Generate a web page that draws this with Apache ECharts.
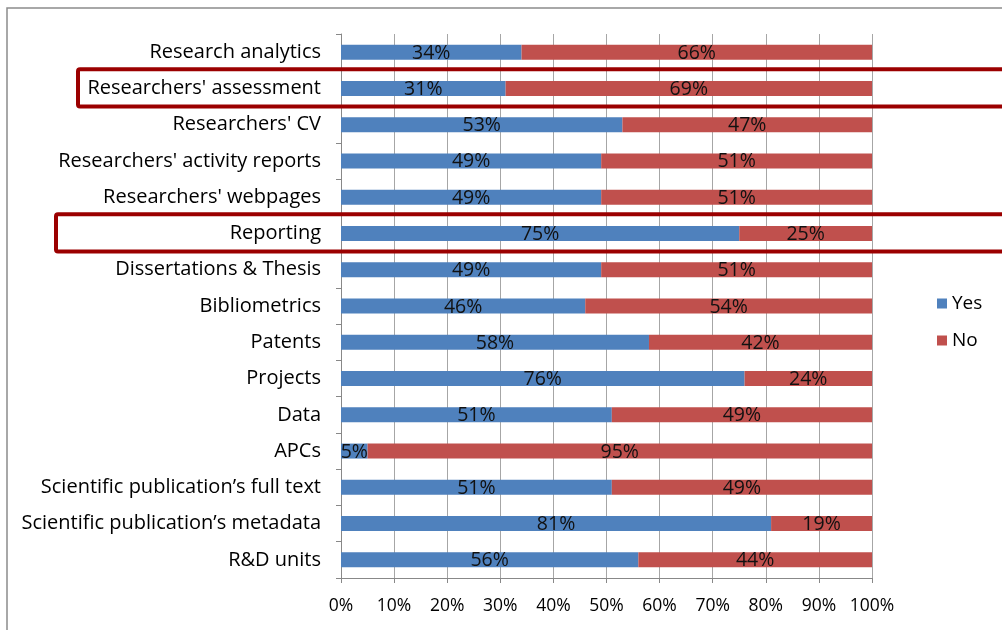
<!DOCTYPE html>
<html>
<head>
<meta charset="utf-8">
<script src="https://cdn.jsdelivr.net/npm/echarts@6/dist/echarts.min.js"></script>
<style>
  html, body { margin: 0; padding: 0; background: #fff; }
  #chart { width: 1002px; height: 630px; }
</style>
</head>
<body>
<div id="chart"></div>
<script>
const categories = [
  'Research analytics',
  "Researchers' assessment",
  "Researchers' CV",
  "Researchers' activity reports",
  "Researchers' webpages",
  'Reporting',
  'Dissertations & Thesis',
  'Bibliometrics',
  'Patents',
  'Projects',
  'Data',
  'APCs',
  'Scientific publication\u2019s full text',
  'Scientific publication\u2019s metadata',
  'R&D units'
]
const yesValues = [34, 31, 53, 49, 49, 75, 49, 46, 58, 76, 51, 5, 51, 81, 56]
const noValues = [66, 69, 47, 51, 51, 25, 51, 54, 42, 24, 49, 95, 49, 19, 44]
const highlighted = ["Researchers' assessment", 'Reporting']

const FONT = '"Open Sans", "Noto Sans", sans-serif'
const chart = echarts.init(document.getElementById('chart'))

const barLabel = {
  show: true,
  position: 'inside',
  formatter: '{c}%',
  color: '#111',
  fontFamily: FONT,
  fontSize: 19.5,
  offset: [0, 1]
}

const option = {
  animation: false,
  grid: { left: 341, right: 130, top: 34, bottom: 52 },
  legend: {
    orient: 'vertical',
    left: 932,
    top: 289,
    itemWidth: 10,
    itemHeight: 10,
    itemGap: 18,
    icon: 'rect',
    textStyle: { fontFamily: FONT, fontSize: 19, color: '#000' },
    data: ['Yes', 'No']
  },
  xAxis: {
    type: 'value',
    min: 0,
    max: 100,
    interval: 10,
    axisLabel: { formatter: '{value}%', fontFamily: FONT, fontSize: 17.5, color: '#000', margin: 19 },
    axisLine: { show: true, lineStyle: { color: '#888' } },
    axisTick: { show: true, length: 5, lineStyle: { color: '#888' } },
    splitLine: { show: true, lineStyle: { color: '#a6a6a6' } }
  },
  yAxis: {
    type: 'category',
    inverse: true,
    data: categories,
    axisLabel: { fontFamily: FONT, fontSize: 20, color: '#000', margin: 20 },
    axisLine: { show: true, lineStyle: { color: '#888' } },
    axisTick: { show: true, length: 5, lineStyle: { color: '#888' } }
  },
  series: [
    {
      name: 'Yes',
      type: 'bar',
      stack: 'total',
      barWidth: 15,
      data: yesValues,
      itemStyle: { color: '#4f81bd' },
      label: barLabel
    },
    {
      name: 'No',
      type: 'bar',
      stack: 'total',
      barWidth: 15,
      data: noValues,
      itemStyle: { color: '#c0504d' },
      label: barLabel
    }
  ]
}

chart.setOption(option)

// frame and highlight boxes placed from the category scale
const band = chart.convertToPixel({ yAxisIndex: 0 }, categories[1]) - chart.convertToPixel({ yAxisIndex: 0 }, categories[0])
const boxLeft = [78, 56]
const graphics = [
  {
    type: 'rect',
    shape: { x: 7, y: 8, width: 1100, height: 700 },
    style: { fill: 'none', stroke: '#8c8c8c', lineWidth: 1.5 },
    z: 0
  }
]
highlighted.forEach((name, i) => {
  const cy = chart.convertToPixel({ yAxisIndex: 0 }, name)
  graphics.push({
    type: 'rect',
    shape: { x: boxLeft[i], y: cy - band / 2 - 1, width: 1000, height: band + 1, r: 2 },
    style: { fill: 'none', stroke: '#9b0000', lineWidth: 4 },
    z: 100
  })
})
chart.setOption({ graphic: graphics })
</script>
</body>
</html>
